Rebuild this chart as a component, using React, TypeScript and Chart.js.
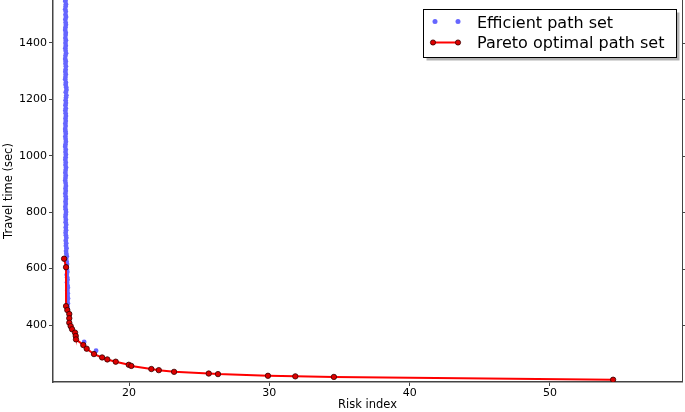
import React, { useEffect, useRef } from "react";
import { Chart, registerables } from "chart.js";

Chart.register(...registerables);

const paretoRisk = [15.37, 15.51, 15.51, 15.6, 15.74, 15.74, 15.74, 15.84, 15.94, 16.15, 16.2, 16.22, 16.74, 16.98, 17.5, 18.08, 18.45, 19.05, 19.98, 20.16, 21.59, 22.12, 23.21, 25.68, 26.34, 29.9, 31.85, 34.6, 54.5];
const paretoTime = [635, 605, 467, 453, 439, 424, 408, 396, 385, 373, 361, 349, 329, 316, 297, 285, 278, 270, 259, 255, 244, 240, 234, 228, 226, 220, 218, 216, 206];

const efficientTime = [1565, 1556, 1548, 1537, 1529, 1519, 1511, 1500, 1492, 1483, 1472, 1464, 1455, 1446, 1436, 1428, 1417, 1409, 1400, 1390, 1381, 1372, 1363, 1354, 1343, 1335, 1326, 1317, 1306, 1298, 1289, 1279, 1271, 1260, 1252, 1243, 1233, 1225, 1214, 1206, 1197, 1187, 1179, 1168, 1160, 1151, 1141, 1132, 1123, 1114, 1105, 1095, 1087, 1078, 1068, 1059, 1050, 1040, 1032, 1022, 1013, 1004, 995, 986, 976, 967, 958, 949, 940, 930, 921, 912, 903, 893, 884, 875, 866, 856, 847, 838, 829, 819, 810, 801, 792, 783, 773, 764, 755, 746, 736, 727, 718, 709, 699, 690, 681, 672, 662, 653, 644, 634, 625, 616, 606, 597, 588, 578, 569, 560, 551, 541, 532, 522, 513, 503, 494, 485, 476, 466, 457];
const efficientRisk = [
  15.47, 15.49, 15.46, 15.5, 15.48, 15.45, 15.49, 15.47, 15.51, 15.46,
  15.48, 15.5, 15.47, 15.45, 15.49, 15.48, 15.46, 15.5, 15.47, 15.49,
  15.46, 15.48, 15.51, 15.47, 15.45, 15.49, 15.47, 15.5, 15.48, 15.46,
  15.49, 15.47, 15.45, 15.5, 15.48, 15.52, 15.54, 15.49, 15.53, 15.51,
  15.48, 15.5, 15.47, 15.49, 15.46, 15.48, 15.5, 15.47, 15.49, 15.46,
  15.48, 15.45, 15.47, 15.49, 15.46, 15.48, 15.5, 15.47, 15.45, 15.49,
  15.47, 15.5, 15.48, 15.46, 15.49, 15.47, 15.51, 15.48, 15.46, 15.49,
  15.47, 15.45, 15.48, 15.5, 15.47, 15.49, 15.46, 15.48, 15.5, 15.47,
  15.49, 15.46, 15.48, 15.51, 15.49, 15.47, 15.5, 15.48, 15.52, 15.49,
  15.51, 15.48, 15.5, 15.53, 15.49, 15.52, 15.5, 15.54, 15.51, 15.53,
  15.56, 15.52, 15.55, 15.58, 15.54, 15.57, 15.6, 15.56, 15.59, 15.62,
  15.58, 15.61, 15.64, 15.6, 15.63, 15.62, 15.65, 15.61, 15.64, 15.6,
  15.63,
];
const kneeRisk = [16.8, 17.65];
const kneeTime = [340, 309];

const xTicks = [20, 30, 40, 50];
const yTicks = [400, 600, 800, 1000, 1200, 1400];
const xRange = [14.58, 59.41];
const yRange = [198, 1552];

const legendLabels = ["Efficient path set", "Pareto optimal path set"];

const FONT = "'DejaVu Sans', sans-serif";
const BLUE = "#6666ff";
const RED = "#ff0000";
const SPINE = "#444444";

const framePlugin = {
  id: "frame",
  afterDraw(chart: any) {
    const { ctx, chartArea, scales } = chart;
    ctx.save();
    ctx.strokeStyle = SPINE;
    ctx.lineWidth = 1;
    ctx.beginPath();
    ctx.moveTo(Math.round(chartArea.right) + 0.5, chartArea.top);
    ctx.lineTo(Math.round(chartArea.right) + 0.5, chartArea.bottom);
    yTicks.forEach((v) => {
      const y = Math.round(scales.y.getPixelForValue(v)) + 0.5;
      ctx.moveTo(Math.round(chartArea.right), y);
      ctx.lineTo(Math.round(chartArea.right) + 4, y);
    });
    ctx.stroke();

    // legend
    const bx = 423.5, by = 9.5, bw = 253, bh = 48;
    ctx.fillStyle = "rgba(0,0,0,0.3)";
    ctx.fillRect(bx + 3, by + 3, bw, bh);
    ctx.fillStyle = "#ffffff";
    ctx.fillRect(bx, by, bw, bh);
    ctx.strokeStyle = "#000000";
    ctx.lineWidth = 1;
    ctx.strokeRect(bx, by, bw, bh);

    const row1 = 21.5, row2 = 42.5;
    ctx.fillStyle = BLUE;
    [435, 458].forEach((x) => {
      ctx.beginPath();
      ctx.arc(x, row1, 2.5, 0, Math.PI * 2);
      ctx.fill();
    });
    ctx.strokeStyle = RED;
    ctx.lineWidth = 2;
    ctx.beginPath();
    ctx.moveTo(433, row2);
    ctx.lineTo(458, row2);
    ctx.stroke();
    [433, 458].forEach((x) => {
      ctx.beginPath();
      ctx.arc(x, row2, 2.6, 0, Math.PI * 2);
      ctx.fillStyle = "#dd0000";
      ctx.fill();
      ctx.lineWidth = 0.8;
      ctx.strokeStyle = "#330000";
      ctx.stroke();
    });

    ctx.fillStyle = "#000000";
    ctx.font = `16px ${FONT}`;
    ctx.textBaseline = "alphabetic";
    ctx.textAlign = "left";
    ctx.fillText(legendLabels[0], 477, 27.5);
    ctx.fillText(legendLabels[1], 477, 48);
    ctx.restore();
  },
};

export default function App() {
  const ref = useRef<HTMLCanvasElement | null>(null);

  useEffect(() => {
    if (!ref.current) return;
    const efficientPoints = efficientRisk
      .map((x, i) => ({ x, y: efficientTime[i] }))
      .concat(kneeRisk.map((x, i) => ({ x, y: kneeTime[i] })));
    const chart = new Chart(ref.current, {
      type: "scatter",
      data: {
        datasets: [
          {
            label: legendLabels[0],
            data: efficientPoints,
            backgroundColor: BLUE,
            borderColor: BLUE,
            pointRadius: 2.4,
            pointBorderWidth: 0,
            showLine: false,
            order: 2,
          },
          {
            label: legendLabels[1],
            data: paretoRisk.map((x, i) => ({ x, y: paretoTime[i] })),
            showLine: true,
            borderColor: RED,
            borderWidth: 2,
            backgroundColor: "#dd0000",
            pointBackgroundColor: "#dd0000",
            pointBorderColor: "#330000",
            pointBorderWidth: 0.8,
            pointRadius: 2.7,
            order: 1,
          },
        ],
      },
      options: {
        responsive: false,
        animation: false,
        devicePixelRatio: 1,
        layout: { autoPadding: false, padding: { top: 0, right: 3, left: 0, bottom: 0 } },
        plugins: {
          legend: { display: false },
          tooltip: { enabled: false },
        },
        scales: {
          x: {
            type: "linear",
            min: xRange[0],
            max: xRange[1],
            afterBuildTicks: (s: any) => {
              s.ticks = xTicks.map((v) => ({ value: v }));
            },
            afterFit: (s: any) => {
              s.height = 30;
              s.paddingLeft = 0;
              s.paddingRight = 0;
            },
            grid: { display: true, drawOnChartArea: false, tickLength: 4, color: SPINE },
            border: { display: true, color: SPINE, width: 1.5 },
            ticks: {
              color: "#000",
              font: { family: FONT, size: 11 },
              padding: 1,
              maxRotation: 0,
              callback: (v: any) => String(v),
            },
            title: {
              display: true,
              text: "Risk index",
              color: "#000",
              font: { family: FONT, size: 11.5 },
              padding: { top: 0, bottom: 0 },
            },
          },
          y: {
            type: "linear",
            min: yRange[0],
            max: yRange[1],
            afterBuildTicks: (s: any) => {
              s.ticks = yTicks.map((v) => ({ value: v }));
            },
            afterFit: (s: any) => {
              s.width = 53;
              s.paddingTop = 0;
              s.paddingBottom = 0;
            },
            grid: { display: true, drawOnChartArea: false, tickLength: 4, color: SPINE },
            border: { display: true, color: SPINE, width: 1.5 },
            ticks: {
              color: "#000",
              font: { family: FONT, size: 11 },
              padding: 2,
              callback: (v: any) => String(v),
            },
            title: {
              display: true,
              text: "Travel time (sec)",
              color: "#000",
              font: { family: FONT, size: 11.5 },
              padding: { top: 2, bottom: 0 },
            },
          },
        },
      },
      plugins: [framePlugin],
    });
    return () => chart.destroy();
  }, []);

  return (
    <div style={{ position: "absolute", left: 0, top: 0, width: 685, height: 412, background: "#fff" }}>
      <canvas ref={ref} width={685} height={412} style={{ display: "block" }} />
    </div>
  );
}
